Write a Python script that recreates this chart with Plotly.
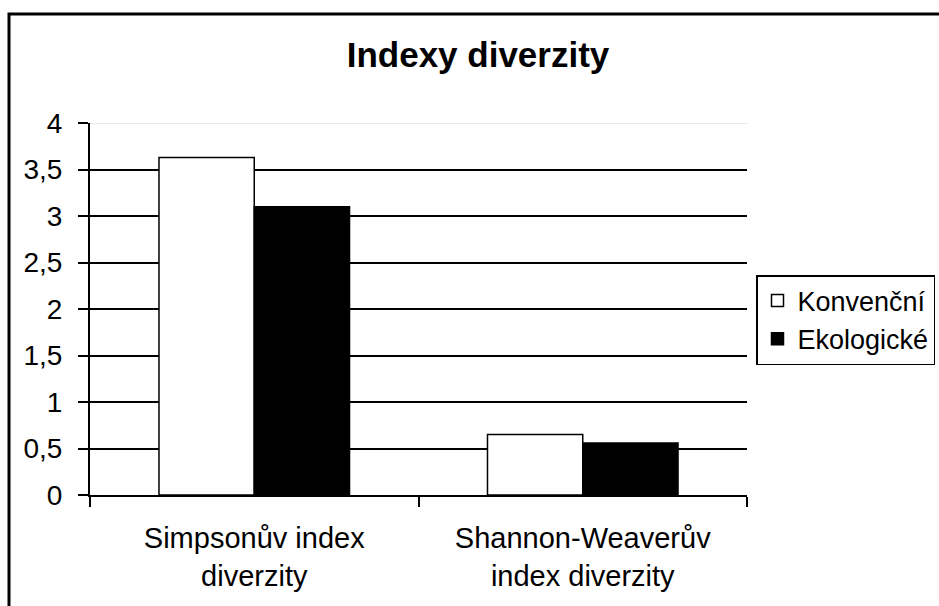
import plotly.graph_objects as go

# Diversity indices for conventional vs. organic farming
categories = ["Simpsonův index<br>diverzity", "Shannon-Weaverův<br>index diverzity"]
konvencni = [3.63, 0.65]
ekologicke = [3.10, 0.56]
series_names = ["Konvenční", "Ekologické"]
y_ticks = [0, 0.5, 1, 1.5, 2, 2.5, 3, 3.5, 4]

FONT = "Arial, Liberation Sans, sans-serif"

W, H = 939, 606
# plot area in pixels
L, R, T, B = 90, 747, 123, 495
pw, ph = R - L, B - T

fig = go.Figure()
fig.add_trace(go.Bar(
    x=categories, y=konvencni, name=series_names[0],
    marker=dict(color="white", line=dict(color="black", width=1.5)),
))
fig.add_trace(go.Bar(
    x=categories, y=ekologicke, name=series_names[1],
    marker=dict(color="black", line=dict(color="black", width=1.5)),
))


def px_x(x):
    return (x - L) / pw


def px_y(y):
    return (B - y) / ph


shapes = [
    # chart frame
    dict(type="rect", xref="paper", yref="paper",
         x0=px_x(9), x1=px_x(W + 20), y0=px_y(H + 20), y1=px_y(14),
         line=dict(color="black", width=3), fillcolor="rgba(0,0,0,0)", layer="above"),
    # light top gridline
    dict(type="line", xref="paper", yref="y", x0=0, x1=1, y0=4, y1=4,
         line=dict(color="white", width=3), layer="above"),
    dict(type="line", xref="paper", yref="y", x0=0, x1=1, y0=4, y1=4,
         line=dict(color="#d4d4d4", width=1.2), layer="above"),
]

fig.update_layout(
    width=W, height=H,
    margin=dict(l=L, r=W - R, t=T, b=H - B, pad=0, autoexpand=False),
    paper_bgcolor="white", plot_bgcolor="white",
    separators=", ",
    font=dict(family=FONT, color="black", size=28),
    title=dict(text="<b>Indexy diverzity</b>", x=478 / W, xanchor="center",
               y=1 - 55 / H, yanchor="middle", yref="container",
               font=dict(family=FONT, size=35, color="black")),
    barmode="group", bargap=0.42, bargroupgap=0,
    showlegend=True,
    legend=dict(x=px_x(756), y=px_y(275), xanchor="left", yanchor="top",
                bordercolor="black", borderwidth=1.5, bgcolor="white",
                font=dict(family=FONT, size=27, color="black"),
                itemwidth=30, tracegroupgap=0),
    shapes=shapes,
)

fig.update_yaxes(
    range=[0, 4], tickvals=y_ticks, tickformat=".1~f",
    showgrid=True, gridcolor="black", gridwidth=1.5,
    showline=True, linecolor="black", linewidth=2,
    ticks="outside", ticklen=10, tickwidth=2, tickcolor="black",
    ticklabelstandoff=10,
    zeroline=False, tickfont=dict(family=FONT, size=28, color="black"),
    fixedrange=True,
)
fig.update_xaxes(
    showgrid=False, showline=True, linecolor="black", linewidth=2,
    ticks="outside", ticklen=10, tickwidth=2, tickcolor="black",
    tickson="boundaries", ticklabelstandoff=16,
    tickfont=dict(family=FONT, size=29, color="black"),
    fixedrange=True,
)

fig.write_html("out.html")
